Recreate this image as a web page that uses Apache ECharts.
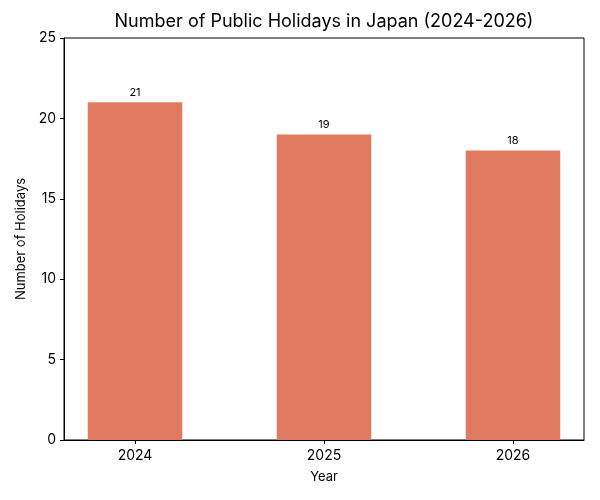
<!DOCTYPE html>
<html><head><meta charset="utf-8">
<script src="https://cdn.jsdelivr.net/npm/echarts@6/dist/echarts.min.js"></script>
<style>html,body{margin:0;padding:0;background:#fff}#c{width:600px;height:500px}</style>
</head><body><div id="c"></div>
<script>
const titleText = 'Number of Public Holidays in Japan (2024-2026)';
const categories = ['2024', '2025', '2026'];
const holidays = [21, 19, 18];
const yTicks = [0, 5, 10, 15, 20, 25];

const font = 'Inter, "Open Sans", sans-serif';
const chart = echarts.init(document.getElementById('c'));
chart.setOption({
  animation: false,
  graphic: [{
    type: 'text', x: 324, y: 22,
    style: { text: titleText, align: 'center', verticalAlign: 'middle',
      font: 'normal 18px ' + font, fill: '#000' }
  }],
  grid: [
    { left: 64, right: 16, top: 38, bottom: 60, show: true, borderColor: '#000', borderWidth: 1,
      backgroundColor: 'transparent', outerBoundsMode: 'none' },
    { left: 40.5, right: -7.5, top: 38, bottom: 60, outerBoundsMode: 'none' }
  ],
  xAxis: [
    { gridIndex: 0, type: 'value', min: 0, max: 1, axisLine: { show: true, lineStyle: { color: '#000' } },
      axisTick: { show: false }, axisLabel: { show: false }, splitLine: { show: false } },
    { gridIndex: 1, type: 'category', data: categories, axisLine: { show: false },
      axisTick: { show: true, alignWithLabel: true, length: 4, lineStyle: { color: '#000' } },
      axisLabel: { fontFamily: font, fontSize: 14, color: '#000', margin: 9 },
      name: 'Year', nameLocation: 'middle', nameGap: 31,
      nameTextStyle: { fontFamily: font, fontSize: 13, color: '#000' } }
  ],
  yAxis: [
    { gridIndex: 0, type: 'value', min: 0, max: 25, interval: 5,
      axisLine: { show: true, lineStyle: { color: '#000' } },
      axisTick: { show: true, length: 4, lineStyle: { color: '#000' } },
      axisLabel: { fontFamily: font, fontSize: 14, color: '#000', margin: 8,
        formatter: v => yTicks.includes(v) ? String(v) : '' },
      splitLine: { show: false },
      name: 'Number of Holidays', nameLocation: 'middle', nameGap: 35, nameRotate: 90,
      nameTextStyle: { fontFamily: font, fontSize: 13, color: '#000' } },
    { gridIndex: 1, type: 'value', min: 0, max: 25, show: false }
  ],
  series: [{
    type: 'bar', xAxisIndex: 1, yAxisIndex: 1, data: holidays, barWidth: '50%',
    itemStyle: { color: '#E07B62' },
    label: { show: true, position: 'top', distance: 4, fontFamily: font, fontSize: 11, color: '#000' }
  }]
});
</script></body></html>
